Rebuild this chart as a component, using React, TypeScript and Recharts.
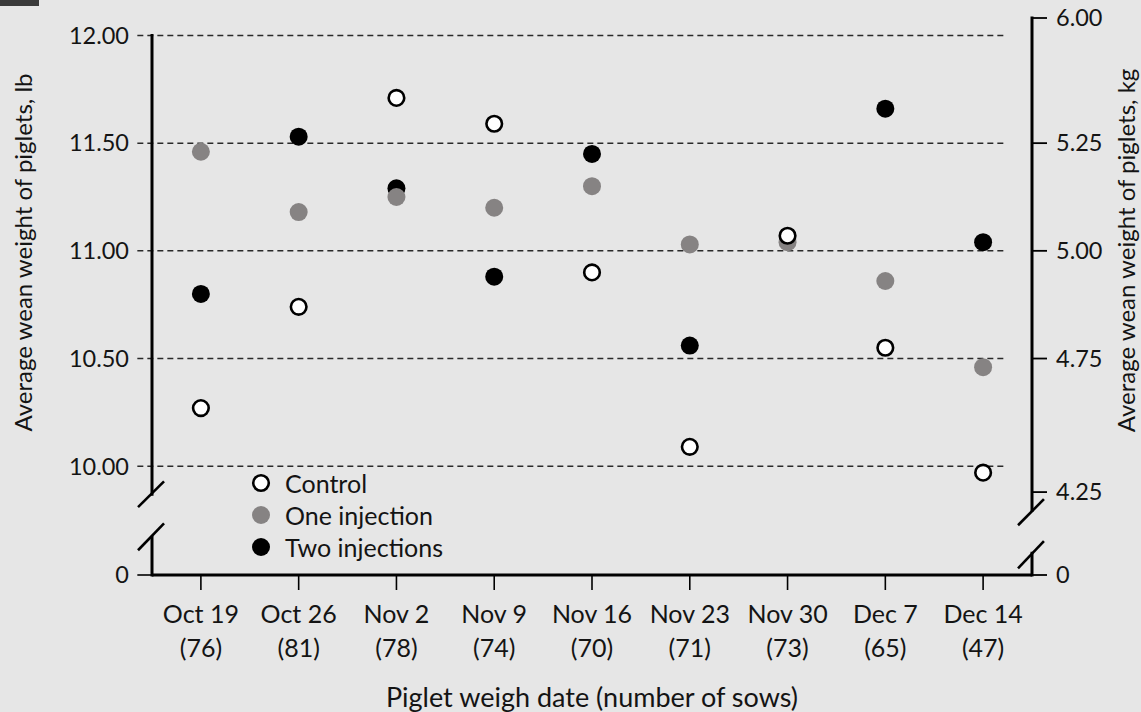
import { ScatterChart, Scatter, XAxis, YAxis, ReferenceLine, Legend } from 'recharts'

const DATES = ['Oct 19', 'Oct 26', 'Nov 2', 'Nov 9', 'Nov 16', 'Nov 23', 'Nov 30', 'Dec 7', 'Dec 14']
const SOWS = [76, 81, 78, 74, 70, 71, 73, 65, 47]

// average wean weight, lb
const CONTROL = [10.27, 10.74, 11.71, 11.59, 10.9, 10.09, 11.07, 10.55, 9.97]
const ONE_INJ = [11.46, 11.18, 11.25, 11.2, 11.3, 11.03, 11.04, 10.86, 10.46]
const TWO_INJ = [10.8, 11.53, 11.29, 10.88, 11.45, 10.56, null, 11.66, 11.04]

// the axis is broken: the bottom of the domain is drawn as "0"
const Y_MIN = 9.495
const Y_MAX = 12.081
const LB_TICKS = [Y_MIN, 10, 10.5, 11, 11.5, 12]
const LB_LABELS = ['0', '10.00', '10.50', '11.00', '11.50', '12.00']
const KG_TICKS = [Y_MIN, 9.88, 10.5, 11, 11.5, Y_MAX]
const KG_LABELS = ['0', '4.25', '4.75', '5.00', '5.25', '6.00']

const FONT = 'Lato, "Open Sans", sans-serif'
const INK = '#141414'
const GRAY = '#868383'
const BG = '#e6e6e6'

const SERIES = [
  { name: 'Two injections', values: TWO_INJ, fill: '#000', stroke: 'none' },
  { name: 'One injection', values: ONE_INJ, fill: GRAY, stroke: 'none' },
  { name: 'Control', values: CONTROL, fill: '#fff', stroke: '#000' },
]

const toPoints = (vals: (number | null)[]) =>
  vals.map((v, i) => ({ i, v })).filter((p) => p.v != null)

function dot(fill: string, stroke: string) {
  return (p: any) =>
    stroke === 'none'
      ? <circle cx={p.cx} cy={p.cy} r={9} fill={fill} />
      : <circle cx={p.cx} cy={p.cy} r={7.8} fill={fill} stroke={stroke} strokeWidth={2.6} />
}

function DateTick({ x, y, payload }: any) {
  const i = payload.value
  return (
    <text textAnchor="middle" fontSize={25} fontFamily={FONT} fill={INK}>
      <tspan x={x} y={y + 33}>{DATES[i]}</tspan>
      <tspan x={x} y={y + 67}>({SOWS[i]})</tspan>
    </text>
  )
}

function LegendBox() {
  const items = [...SERIES].reverse()
  return (
    <div style={{ fontFamily: FONT, fontSize: 25, color: INK }}>
      {items.map((s) => (
        <div key={s.name} style={{ display: 'flex', alignItems: 'center', height: 32 }}>
          <svg width={22} height={22} style={{ marginRight: 13 }}>
            {s.stroke === 'none'
              ? <circle cx={11} cy={11} r={9} fill={s.fill} />
              : <circle cx={11} cy={11} r={7.8} fill={s.fill} stroke={s.stroke} strokeWidth={2.6} />}
          </svg>
          <span>{s.name}</span>
        </div>
      ))}
    </div>
  )
}

// dashed grid lines run a little past the left axis and stop short of the right one
const GRID = [10, 10.5, 11, 11.5, 12]

// axis pieces and break marks, in data units
const AXIS_SEGMENTS = [
  [{ x: -0.5, y: 12 }, { x: -0.5, y: 9.87 }],
  [{ x: -0.5, y: 9.67 }, { x: -0.5, y: Y_MIN }],
  [{ x: 8.5, y: Y_MAX }, { x: 8.5, y: 9.796 }],
  [{ x: 8.5, y: 9.596 }, { x: 8.5, y: Y_MIN }],
]
const BREAK_MARKS = [
  [{ x: -0.643, y: 9.81 }, { x: -0.377, y: 9.93 }],
  [{ x: -0.643, y: 9.61 }, { x: -0.377, y: 9.735 }],
  [{ x: 8.357, y: 9.726 }, { x: 8.622, y: 9.847 }],
  [{ x: 8.357, y: 9.526 }, { x: 8.622, y: 9.652 }],
]

export default function App() {
  return (
    <div style={{ width: 1141, height: 712, background: BG, position: 'relative' }}>
      <style>{`body{margin:0;background:${BG}}`}</style>
      <div style={{ position: 'absolute', left: 0, top: 0, width: 39, height: 6, background: '#3a3a3a' }} />
      <ScatterChart width={1141} height={712} margin={{ top: 18, right: 0, bottom: 0, left: 0 }}>
        <XAxis
          type="number"
          dataKey="i"
          domain={[-0.5, 8.5]}
          ticks={[0, 1, 2, 3, 4, 5, 6, 7, 8]}
          allowDataOverflow
          height={137}
          axisLine={{ stroke: '#000', strokeWidth: 3 }}
          tickLine={{ stroke: '#000', strokeWidth: 1.6 }}
          tickSize={15}
          tickMargin={0}
          tick={<DateTick />}
          label={{
            value: 'Piglet weigh date (number of sows)',
            position: 'insideBottom',
            offset: 5,
            style: { fontFamily: FONT, fontSize: 27, fill: INK },
          }}
        />
        <YAxis
          yAxisId="lb"
          type="number"
          dataKey="v"
          domain={[Y_MIN, Y_MAX]}
          ticks={LB_TICKS}
          allowDataOverflow
          width={152}
          axisLine={false}
          tickLine={false}
          tickSize={15}
          tickMargin={8}
          tick={{ fontFamily: FONT, fontSize: 23.5, fill: INK }}
          tickFormatter={(v) => LB_LABELS[LB_TICKS.indexOf(v)] ?? ''}
          label={{
            value: 'Average wean weight of piglets, lb',
            angle: -90,
            position: 'insideLeft',
            offset: 23,
            dy: -44,
            style: { fontFamily: FONT, fontSize: 24, fill: INK, textAnchor: 'middle' },
          }}
        />
        <YAxis
          yAxisId="kg"
          orientation="right"
          type="number"
          domain={[Y_MIN, Y_MAX]}
          ticks={KG_TICKS}
          allowDataOverflow
          width={109}
          axisLine={false}
          tickLine={{ stroke: '#000', strokeWidth: 1.8 }}
          tickSize={15}
          tickMargin={9}
          tick={{ fontFamily: FONT, fontSize: 23.5, fill: INK }}
          tickFormatter={(v) => KG_LABELS[KG_TICKS.indexOf(v)] ?? ''}
          label={{
            value: 'Average wean weight of piglets, kg',
            angle: -90,
            position: 'insideRight',
            offset: 15,
            dy: -46,
            style: { fontFamily: FONT, fontSize: 24, fill: INK, textAnchor: 'middle' },
          }}
        />

        {GRID.map((g) => (
          <ReferenceLine
            key={g}
            yAxisId="lb"
            ifOverflow="visible"
            segment={[{ x: -0.65, y: g }, { x: 8.24, y: g }]}
            stroke="#2a2a2a"
            strokeWidth={1.5}
            strokeDasharray="6 4"
          />
        ))}
        <ReferenceLine
          yAxisId="lb"
          ifOverflow="visible"
          segment={[{ x: -0.65, y: Y_MIN }, { x: -0.5, y: Y_MIN }]}
          stroke="#000"
          strokeWidth={1.6}
        />
        {AXIS_SEGMENTS.map((seg, k) => (
          <ReferenceLine
            key={'a' + k}
            yAxisId="lb"
            ifOverflow="visible"
            segment={seg}
            stroke="#000"
            strokeWidth={3}
            strokeLinecap="square"
          />
        ))}
        {BREAK_MARKS.map((seg, k) => (
          <ReferenceLine
            key={'b' + k}
            yAxisId="lb"
            ifOverflow="visible"
            segment={seg}
            stroke="#000"
            strokeWidth={2.6}
          />
        ))}

        {SERIES.map((s) => (
          <Scatter
            key={s.name}
            name={s.name}
            yAxisId="lb"
            data={toPoints(s.values)}
            fill={s.fill}
            shape={dot(s.fill, s.stroke)}
            isAnimationActive={false}
          />
        ))}

        <Legend
          layout="vertical"
          align="center"
          verticalAlign="middle"
          wrapperStyle={{ left: 250, top: 467, width: 260 }}
          content={<LegendBox />}
        />
      </ScatterChart>
    </div>
  )
}
